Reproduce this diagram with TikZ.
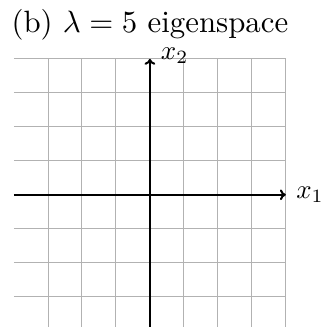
\documentclass[tikz,border=0pt]{standalone}
\usetikzlibrary{arrows.meta}
\begin{document}
\begin{tikzpicture}[x=34pt/1.195,y=34pt/1.195,
  gridline/.style={draw=gray!60,line width=0.7pt},
  axisline/.style={draw=black,line width=1.7pt,-{To[length=5pt,width=9pt]}},
  lbl/.style={scale=2.25,inner sep=0pt}]
\useasboundingbox (-4.41,-3.89) rectangle (5.06,5.73);
\begin{scope}
\clip (-4.41,-3.89) rectangle (5.06,5.73);
\draw[gridline] (-4,-4) grid (4,4);
\end{scope}
\coordinate (xs) at (-4,0);
\coordinate (xe) at (4,0);
\coordinate (ys) at (0,-4);
\coordinate (ye) at (0,4);
\draw[axisline] (xs) -- (xe);
\draw[axisline] (ys) -- (ye);
\node[lbl,anchor=west,xshift=3.7pt] (x1) at (xe) {$x_1$};
\node[lbl,anchor=west,xshift=3.9pt,yshift=1.3pt] (x2) at (ye) {$x_2$};
\node[scale=2.58,anchor=base,inner sep=0pt] (title) at (0,4.76) {(b) $\lambda = 5$ eigenspace};
\end{tikzpicture}
\end{document}
